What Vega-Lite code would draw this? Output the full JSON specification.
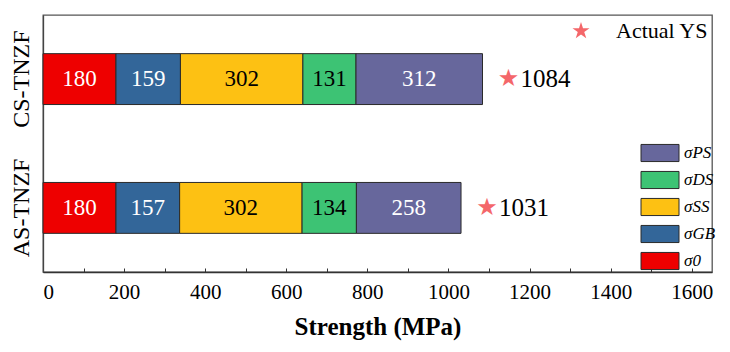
{
  "$schema": "https://vega.github.io/schema/vega-lite/v6.json",
  "autosize": {"type": "none"},
  "width": 669,
  "height": 257,
  "padding": {"left": 43, "top": 15, "right": 18, "bottom": 80},
  "background": "white",
  "config": {
    "font": "Liberation Serif",
    "view": {"stroke": "#555", "strokeWidth": 1.3}
  },
  "data": {
    "values": [
      {"sample": "CS-TNZF", "seg": "σ0", "ord": 1, "v": 180, "total": 1084, "kind": "Actual YS"},
      {"sample": "CS-TNZF", "seg": "σGB", "ord": 2, "v": 159, "total": 1084, "kind": "Actual YS"},
      {"sample": "CS-TNZF", "seg": "σSS", "ord": 3, "v": 302, "total": 1084, "kind": "Actual YS"},
      {"sample": "CS-TNZF", "seg": "σDS", "ord": 4, "v": 131, "total": 1084, "kind": "Actual YS"},
      {"sample": "CS-TNZF", "seg": "σPS", "ord": 5, "v": 312, "total": 1084, "kind": "Actual YS"},
      {"sample": "AS-TNZF", "seg": "σ0", "ord": 1, "v": 180, "total": 1031, "kind": "Actual YS"},
      {"sample": "AS-TNZF", "seg": "σGB", "ord": 2, "v": 157, "total": 1031, "kind": "Actual YS"},
      {"sample": "AS-TNZF", "seg": "σSS", "ord": 3, "v": 302, "total": 1031, "kind": "Actual YS"},
      {"sample": "AS-TNZF", "seg": "σDS", "ord": 4, "v": 134, "total": 1031, "kind": "Actual YS"},
      {"sample": "AS-TNZF", "seg": "σPS", "ord": 5, "v": 258, "total": 1031, "kind": "Actual YS"}
    ]
  },
  "encoding": {
    "y": {
      "field": "sample",
      "type": "nominal",
      "sort": null,
      "scale": {"domain": ["CS-TNZF", "AS-TNZF"], "paddingInner": 0.605, "paddingOuter": 0.3},
      "axis": {
        "title": null,
        "ticks": false,
        "labelAngle": -90,
        "labelFontSize": 24,
        "labelColor": "black",
        "labelPadding": 10,
        "domainColor": "#444",
        "domainWidth": 1.3
      }
    }
  },
  "layer": [
    {
      "mark": {"type": "bar", "stroke": "#2a2a2a", "strokeWidth": 1},
      "encoding": {
        "x": {
          "field": "v",
          "type": "quantitative",
          "stack": "zero",
          "scale": {"domain": [0, 1650], "nice": false},
          "axis": {
            "title": "Strength (MPa)",
            "titleFontSize": 25,
            "titleFontWeight": "bold",
            "titleColor": "black",
            "titlePadding": 12,
            "values": [0, 100, 200, 300, 400, 500, 600, 700, 800, 900, 1000, 1100, 1200, 1300, 1400, 1500, 1600],
            "labelExpr": "datum.value % 200 === 0 ? datum.label : ''",
            "format": "d",
            "labelFontSize": 21,
            "labelColor": "black",
            "labelPadding": 13,
            "grid": false,
            "tickSize": -4,
            "tickColor": "#333",
            "domainColor": "#333",
            "domainWidth": 1.3
          }
        },
        "color": {
          "field": "seg",
          "type": "nominal",
          "scale": {
            "domain": ["σ0", "σGB", "σSS", "σDS", "σPS"],
            "range": ["#ee0000", "#336699", "#fdc113", "#3dc374", "#67679c"]
          },
          "legend": {
            "title": null,
            "orient": "none",
            "legendX": 607,
            "legendY": 128,
            "values": ["σPS", "σDS", "σSS", "σGB", "σ0"],
            "symbolType": "M-2,-0.9H2V0.9H-2Z",
            "symbolSize": 361,
            "symbolStrokeColor": "#2a2a2a",
            "symbolStrokeWidth": 1,
            "symbolOpacity": 1,
            "labelFontSize": 17,
            "labelFontStyle": "italic",
            "labelColor": "black",
            "labelOffset": 14,
            "rowPadding": 5,
            "padding": 0
          }
        },
        "order": {"field": "ord", "type": "quantitative"}
      }
    },
    {
      "transform": [
        {"stack": "v", "groupby": ["sample"], "sort": [{"field": "ord"}], "as": ["x0", "x1"]},
        {"calculate": "(datum.x0 + datum.x1) / 2", "as": "mid"}
      ],
      "mark": {"type": "text", "fontSize": 23, "align": "center", "baseline": "middle"},
      "encoding": {
        "x": {"field": "mid", "type": "quantitative"},
        "text": {"field": "v", "type": "quantitative"},
        "color": {
          "condition": {"test": "datum.seg === 'σSS' || datum.seg === 'σDS'", "value": "black"},
          "value": "white"
        }
      }
    },
    {
      "transform": [{"filter": "datum.ord == 5"}],
      "mark": {"type": "text", "text": "★", "font": "DejaVu Sans", "fontSize": 24, "align": "center", "baseline": "middle", "dx": 26},
      "encoding": {
        "x": {"field": "total", "type": "quantitative"},
        "fill": {
          "field": "kind",
          "type": "nominal",
          "scale": {"range": ["#f4676a"]},
          "legend": {
            "title": null,
            "orient": "none",
            "legendX": 527,
            "legendY": 5,
            "symbolType": "M0,-1L0.225,-0.309L0.951,-0.309L0.363,0.118L0.588,0.809L0,0.382L-0.588,0.809L-0.363,0.118L-0.951,-0.309L-0.225,-0.309Z",
            "symbolSize": 320,
            "symbolFillColor": "#f4676a",
            "symbolStrokeWidth": 0,
            "symbolOpacity": 1,
            "labelFontSize": 22,
            "labelColor": "black",
            "labelOffset": 24,
            "padding": 0
          }
        }
      }
    },
    {
      "transform": [{"filter": "datum.ord == 5"}],
      "mark": {"type": "text", "fontSize": 25, "align": "left", "baseline": "middle", "dx": 38, "color": "black"},
      "encoding": {
        "x": {"field": "total", "type": "quantitative"},
        "text": {"field": "total", "type": "quantitative"}
      }
    }
  ]
}
